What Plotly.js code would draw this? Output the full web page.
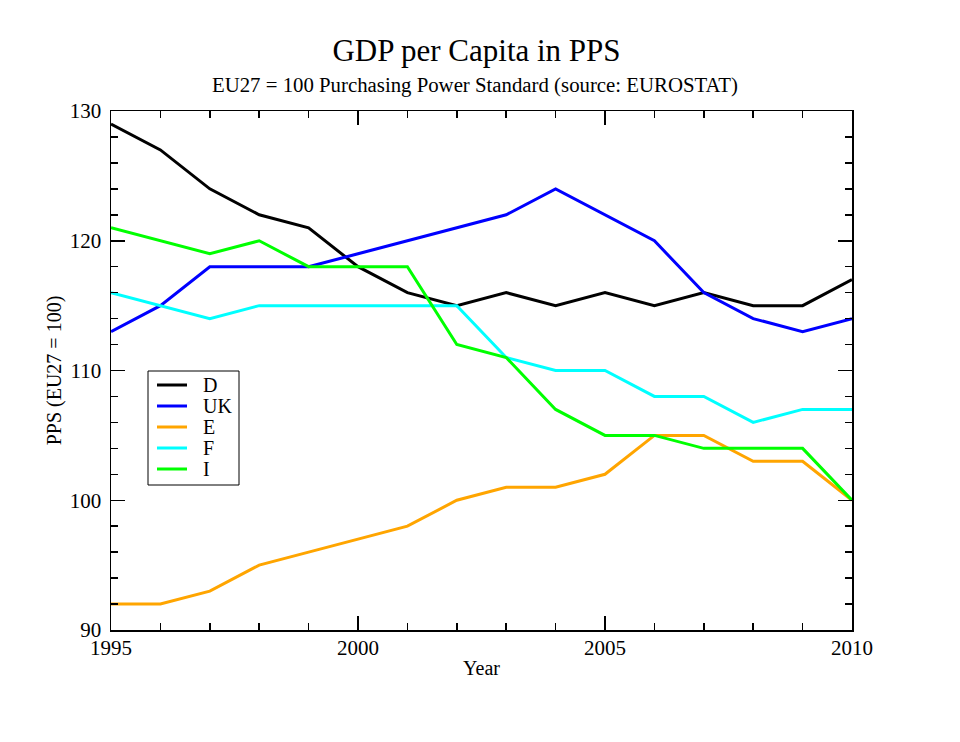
<!DOCTYPE html>
<html><head><meta charset="utf-8">
<script src="https://cdn.plot.ly/plotly-3.0.1.min.js"></script>
<style>body{margin:0;background:#fff}#c{width:960px;height:742px}</style>
</head><body><div id="c"></div>
<script>
const years = [1995,1996,1997,1998,1999,2000,2001,2002,2003,2004,2005,2006,2007,2008,2009,2010];
const D  = [129,127,124,122,121,118,116,115,116,115,116,115,116,115,115,117];
const UK = [113,115,118,118,118,119,120,121,122,124,122,120,116,114,113,114];
const E  = [92,92,93,95,96,97,98,100,101,101,102,105,105,103,103,100];
const F  = [116,115,114,115,115,115,115,115,111,110,110,108,108,106,107,107];
const I  = [121,120,119,120,118,118,118,112,111,107,105,105,104,104,104,100];
const names = ['D','UK','E','F','I'];
const colors = ['#000000','#0000ff','#ffa500','#00ffff','#00ff00'];
const series = [D,UK,E,F,I];
const font = 'Liberation Serif, DejaVu Serif, serif';
const traces = series.map((s,i)=>({x:years,y:s,name:names[i],type:'scatter',mode:'lines',line:{color:colors[i],width:3},showlegend:false}));

// plot area geometry (px) for legend placement
const L=111, R=852, T=111, B=630;
const px = x => (x-L)/(R-L);
const py = y => (B-y)/(B-T);

const shapes = [{type:'rect',xref:'paper',yref:'paper',x0:px(148),x1:px(239),y0:py(485),y1:py(371),line:{color:'#000',width:1},fillcolor:'#fff',layer:'above'}];
const annotations = [{text:'EU27 = 100 Purchasing Power Standard (source: EUROSTAT)',xref:'paper',yref:'paper',x:px(475),y:py(85),xanchor:'center',yanchor:'middle',showarrow:false,font:{family:font,size:20.8,color:'#000'}}];
names.forEach((n,i)=>{
  const yy = 385 + i*21;
  shapes.push({type:'line',xref:'paper',yref:'paper',x0:px(157),x1:px(187),y0:py(yy),y1:py(yy),line:{color:colors[i],width:3},layer:'above'});
  annotations.push({text:n,xref:'paper',yref:'paper',x:px(201),y:py(yy),xanchor:'left',yanchor:'middle',showarrow:false,font:{family:font,size:20,color:'#000'}});
});

const axisCommon = {showgrid:false,zeroline:false,showline:true,linecolor:'#000',linewidth:1.5,mirror:'ticks',
  ticks:'inside',ticklen:14,tickwidth:1.5,tickcolor:'#000',tickfont:{family:font,size:21,color:'#000'}};
const layout = {
  width:960,height:742,margin:{l:L,r:960-R,t:T,b:742-B},
  paper_bgcolor:'#fff',plot_bgcolor:'#fff',font:{family:font,color:'#000'},
  title:{text:'GDP per Capita in PPS',font:{family:font,size:31,color:'#000'},x:px(476.5),xanchor:'center',xref:'paper',y:1-50/742,yref:'container',yanchor:'middle'},
  annotations:annotations, shapes:shapes,
  xaxis:Object.assign({},axisCommon,{range:[1995,2010],dtick:5,tick0:1995,ticklabelstandoff:-2,
    minor:{dtick:1,ticks:'inside',ticklen:7,tickwidth:1.5,tickcolor:'#000',showgrid:false},
    title:{text:'Year',font:{family:font,size:20,color:'#000'},standoff:2}}),
  yaxis:Object.assign({},axisCommon,{range:[90,130],dtick:10,tick0:90,ticklabelstandoff:4,
    minor:{dtick:2,ticks:'inside',ticklen:7,tickwidth:1.5,tickcolor:'#000',showgrid:false},
    title:{text:'PPS (EU27 = 100)',font:{family:font,size:20,color:'#000'},standoff:3}}),
  showlegend:false
};
Plotly.newPlot('c',traces,layout,{displayModeBar:false,staticPlot:true});
</script></body></html>
